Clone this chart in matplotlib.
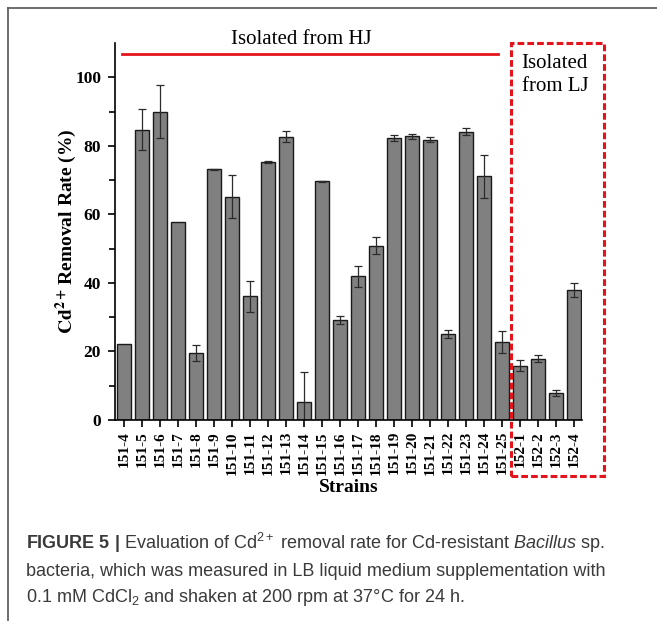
import matplotlib
matplotlib.use("Agg")
import matplotlib.pyplot as plt
from matplotlib.patches import Rectangle
from matplotlib.lines import Line2D
import numpy as np

plt.rcParams['font.family'] = 'Liberation Serif'
plt.rcParams['mathtext.fontset'] = 'custom'
plt.rcParams['mathtext.rm'] = 'Liberation Sans'
plt.rcParams['mathtext.bf'] = 'Liberation Sans:bold'
plt.rcParams['mathtext.it'] = 'Liberation Sans:italic'

# strains and Cd2+ removal rate (%) with error
strains = ['151-4', '151-5', '151-6', '151-7', '151-8', '151-9', '151-10',
           '151-11', '151-12', '151-13', '151-14', '151-15', '151-16',
           '151-17', '151-18', '151-19', '151-20', '151-21', '151-22',
           '151-23', '151-24', '151-25', '152-1', '152-2', '152-3', '152-4']
removal = [22.1, 84.7, 90.0, 57.9, 19.6, 73.1, 65.2, 36.1, 75.2, 82.7, 5.3,
           69.6, 29.2, 41.9, 50.8, 82.3, 82.8, 81.8, 25.0, 84.1, 71.1, 22.8,
           15.8, 17.9, 7.8, 37.9]
errors = [0, 6.0, 7.6, 0, 2.4, 0.2, 6.3, 4.5, 0.3, 1.5, 8.7,
          0.2, 1.2, 3.0, 2.5, 0.8, 0.7, 0.7, 1.2, 1.0, 6.2, 3.2,
          1.6, 1.0, 0.9, 2.0]

fig = plt.figure(figsize=(6.57, 6.21), dpi=100)
W, H = 657, 621
ax = fig.add_axes([115 / W, 1 - 420 / H, (582 - 115) / W, (420 - 43) / H])

x = np.arange(len(strains))
ax.bar(x, removal, width=0.8, color='#808080', edgecolor='#1a1a1a', linewidth=1.0)
has_err = [i for i, e in enumerate(errors) if e > 0]
ax.errorbar(x[has_err], np.array(removal)[has_err], yerr=np.array(errors)[has_err],
            fmt='none', ecolor='#2b2b2b', elinewidth=0.9, capsize=3, capthick=0.9)

ax.set_xlim(-0.5, len(strains) - 0.55)
ax.set_ylim(0, 110)
ax.set_yticks([0, 20, 40, 60, 80, 100])
ax.set_yticks(np.arange(10, 110, 20), minor=True)
ax.set_xticks(x)
ax.set_xticklabels(strains, rotation=90, fontweight='bold', fontsize=11)
for lab in ax.get_yticklabels():
    lab.set_fontweight('bold')
    lab.set_fontsize(12.5)
ax.tick_params(axis='both', which='major', direction='out', length=5, width=1.2, pad=3)
ax.tick_params(axis='y', which='minor', direction='out', length=4, width=1.2)
ax.tick_params(axis='y', pad=5)
for s in ['top', 'right']:
    ax.spines[s].set_visible(False)
for s in ['left', 'bottom']:
    ax.spines[s].set_linewidth(1.2)

ax.set_ylabel(r'$\mathbf{Cd^{2+}}\,$Removal Rate (%)', fontsize=14, fontweight='bold',
              math_fontfamily='stix')
ax.yaxis.set_label_coords(-0.078, 0.5)
ax.set_xlabel('Strains', fontsize=14, fontweight='bold')
ax.xaxis.set_label_coords(0.5, -0.157)

# group annotations
red = '#e3141c'
ax.add_line(Line2D([-0.13, 20.8], [106.9, 106.9], color=red, lw=2.0, clip_on=False))
ax.text(9.86, 109.6, 'Isolated from HJ', ha='center', va='baseline', fontsize=15)
ax.add_patch(Rectangle((21.5, -16.35), 26.67 - 21.5, 110 + 16.35, fill=False,
                       edgecolor=red, lw=2.2, linestyle=(0, (2.2, 1.0)), clip_on=False))
ax.text(22.1, 96.0, 'Isolated\nfrom LJ', ha='left', va='baseline', fontsize=15,
        linespacing=1.25)

# frame of the figure panel
fig.add_artist(Line2D([8 / W, 8 / W], [0, 1 - 8 / H], color='#555555', lw=1.2))
fig.add_artist(Line2D([8 / W, 1], [1 - 8 / H, 1 - 8 / H], color='#555555', lw=1.2))

# caption
cap_kw = dict(fontsize=13, family='Liberation Sans', color='#3a3a3a',
              math_fontfamily='custom', va='baseline', ha='left')
fig.text(26 / W, 1 - 549 / H,
         r'$\mathbf{FIGURE\ 5\ |}$ Evaluation of Cd$^{2+}$ removal rate for Cd-resistant $\mathit{Bacillus}$ sp.',
         **cap_kw)
fig.text(26 / W, 1 - 575.5 / H,
         'bacteria, which was measured in LB liquid medium supplementation with', **cap_kw)
fig.text(26 / W, 1 - 602 / H,
         r'0.1 mM CdCl$_2$ and shaken at 200 rpm at 37°C for 24 h.', **cap_kw)

fig.savefig('out.png', dpi=100)
